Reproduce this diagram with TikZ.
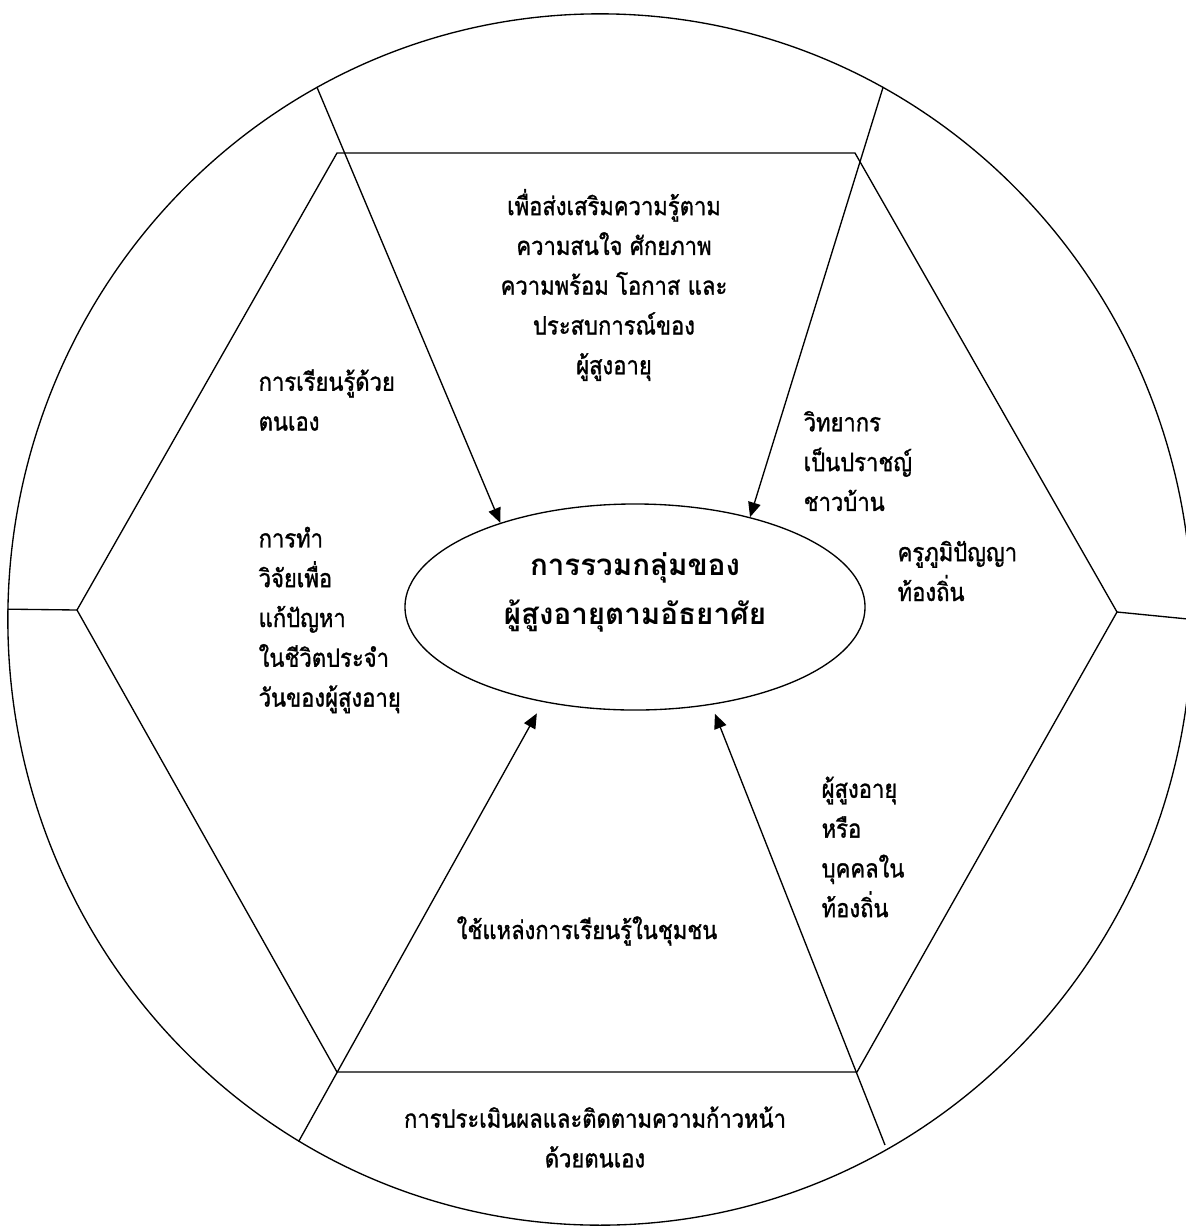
\documentclass[tikz,border=0pt]{standalone}
\usepackage{fontspec}
\newfontfamily\thaifont[Script=Thai]{Loma}
\newfontfamily\thainarrow[Script=Thai, FakeStretch=0.87, FakeBold=1.2]{Loma}
\usetikzlibrary{shapes.geometric,arrows.meta}

\begin{document}
\begin{tikzpicture}[
		x=0.025cm, y=-0.025cm,
		line width=0.95pt,
		every node/.style={inner sep=0pt, font=\thainarrow\fontsize{18}{28.3}\selectfont},
		feed/.style={-{Triangle[length=10.5pt, width=9pt]}},
		hub_style/.style={ellipse, draw, minimum width=11.5cm, minimum height=5.15cm},
		left_text/.style={align=left, anchor=west}
	]
  \useasboundingbox (0,0) rectangle (1186,1226);
  \clip (0,0) rectangle (1186,1226);
  \node (ring) [ellipse, draw, minimum width=29.6cm, minimum height=30.275cm] at (600,619.5) {};
  \coordinate (v_1) at (337,153);
  \coordinate (v_2) at (855,153);
  \coordinate (v_3) at (1117,612);
  \coordinate (v_4) at (857,1072);
  \coordinate (v_5) at (337,1072);
  \coordinate (v_6) at (77,610);
  \coordinate (br_end) at (885,1145);
  \draw (v_1) -- (v_2) -- (v_3) -- (v_4) -- (v_5) -- (v_6) -- cycle;
  \draw (v_6) -- (ring.179.5);
  \draw (v_3) -- (ring.0.8);
  \node (hub) [hub_style] at (635,607) {};
  \node (hub_text) [align=center, font=\thaifont\bfseries\fontsize{21}{34.7}\selectfont] at (635,592) {การรวมกลุ่มของ\\ผู้สูงอายุตามอัธยาศัย};
  \node (aim) [align=center] at (614,285) {เพื่อส่งเสริมความรู้ตาม\\ความสนใจ ศักยภาพ\\ความพร้อม โอกาส และ\\ประสบการณ์ของ\\ผู้สูงอายุ};
  \node (self_study) [left_text] at (258,400) {การเรียนรู้ด้วย\\ตนเอง};
  \node (research) [left_text] at (258,620) {การทำ\\วิจัยเพื่อ\\แก้ปัญหา\\ในชีวิตประจำ\\วันของผู้สูงอายุ};
  \node (lecturer) [left_text] at (803,461) {วิทยากร\\เป็นปราชญ์\\ชาวบ้าน};
  \node (sage) [left_text] at (897,571) {ครูภูมิปัญญา\\ท้องถิ่น};
  \node (elder) [left_text] at (821,847) {ผู้สูงอายุ\\หรือ\\บุคคลใน\\ท้องถิ่น};
  \node (source) at (587,931) {ใช้แหล่งการเรียนรู้ในชุมชน};
  \node (assess) [align=center] at (595,1137) {การประเมินผลและติดตามความก้าวหน้า\\ด้วยตนเอง};
  \draw [feed] (ring.118.3) -- (hub.148);
  \draw [feed] (ring.62.8) -- (hub.38.5);
  \draw [feed, shorten >=9.2pt] (ring.240) -- (hub.226);
  \draw [feed, shorten >=6.8pt] (br_end) -- (hub.308);
\end{tikzpicture}
\end{document}
